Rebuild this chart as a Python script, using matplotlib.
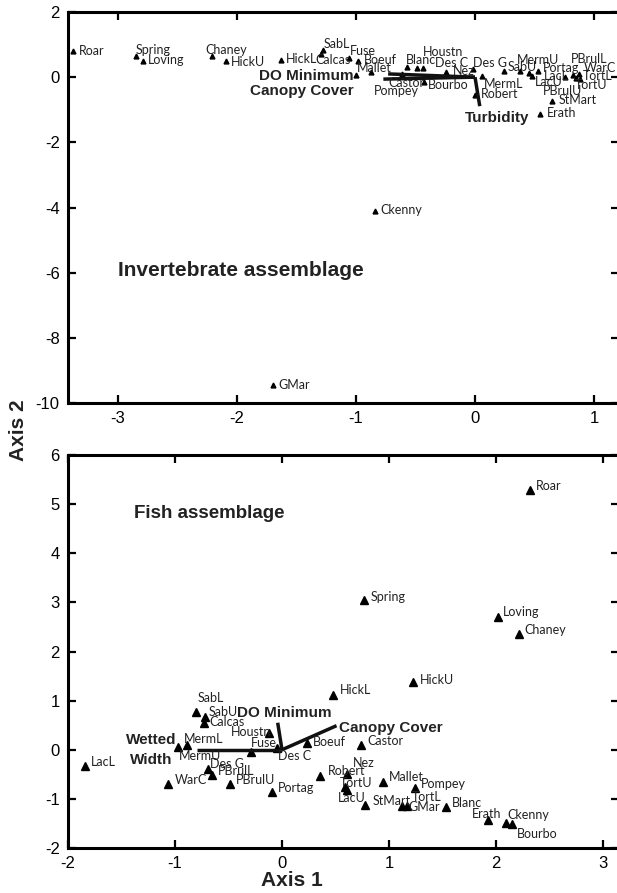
import matplotlib
matplotlib.use("Agg")
import matplotlib.pyplot as plt

plt.rcParams["axes.unicode_minus"] = False

# --- invertebrate ordination (top) ---
inv_sites = ["Roar", "Spring", "Loving", "Chaney", "HickU", "HickL", "SabL", "Calcas",
             "Fuse", "Boeuf", "Mallet", "Pompey", "Castor", "Blanc", "Houstn", "Des C",
             "Bourbo", "Nez", "Des G", "MermL", "Robert", "SabU", "MermU", "LacU",
             "PBrulU", "Portag", "LacL", "PBrulL", "WarC", "TortL", "TortU", "StMart",
             "Erath", "Ckenny", "GMar"]
inv_x = [-3.38, -2.85, -2.79, -2.21, -2.09, -1.63, -1.28, -1.29, -1.06, -0.98, -1.00,
         -0.87, -0.61, -0.57, -0.49, -0.44, -0.43, -0.24, -0.02, 0.06, 0.00, 0.24, 0.38,
         0.45, 0.48, 0.53, 0.76, 0.82, 0.87, 0.85, 0.88, 0.65, 0.55, -0.84, -1.70]
inv_y = [0.80, 0.64, 0.49, 0.64, 0.49, 0.52, 0.83, 0.70, 0.58, 0.49, 0.06, 0.15, 0.09,
         0.31, 0.28, 0.28, -0.15, 0.15, 0.24, 0.03, -0.55, 0.18, 0.18, 0.12, 0.03, 0.18,
         0.00, 0.06, 0.09, -0.03, -0.06, -0.73, -1.13, -4.10, -9.45]
inv_vec_names = ["DO Minimum", "Canopy Cover", "Turbidity"]
inv_vec_x = [-0.73, -0.77, 0.04]
inv_vec_y = [0.10, -0.06, -0.89]

# --- fish ordination (bottom) ---
fish_sites = ["Roar", "Spring", "Loving", "Chaney", "HickU", "HickL", "SabL", "SabU",
              "Calcas", "Houstn", "MermL", "MermU", "Fuse", "Des C", "Boeuf", "Castor",
              "LacL", "WarC", "Des G", "PBrulL", "PBrulU", "Portag", "Robert", "Nez",
              "TortU", "LacU", "StMart", "Mallet", "Pompey", "TortL", "GMar", "Blanc",
              "Erath", "Ckenny", "Bourbo"]
fish_x = [2.32, 0.77, 2.02, 2.22, 1.22, 0.48, -0.80, -0.72, -0.73, -0.12, -0.89, -0.97,
          -0.29, -0.05, 0.23, 0.74, -1.84, -1.07, -0.69, -0.65, -0.49, -0.09, 0.36, 0.61,
          0.59, 0.61, 0.78, 0.94, 1.24, 1.17, 1.12, 1.53, 1.93, 2.09, 2.15]
fish_y = [5.28, 3.05, 2.70, 2.36, 1.38, 1.12, 0.77, 0.67, 0.55, 0.35, 0.10, 0.06, -0.04,
          0.04, 0.14, 0.10, -0.33, -0.69, -0.39, -0.51, -0.69, -0.85, -0.53, -0.49, -0.75,
          -0.81, -1.12, -0.65, -0.78, -1.14, -1.14, -1.16, -1.44, -1.49, -1.51]
fish_vec_names = ["Wetted\nWidth", "DO Minimum", "Canopy Cover"]
fish_vec_x = [-0.79, -0.04, 0.51]
fish_vec_y = [0.00, 0.55, 0.49]

# label nudges in pixels (dx, dy) - layout only
inv_off = {"Roar": (6, 0), "Spring": (0, 6), "Loving": (5, 1), "Chaney": (-7, 6),
           "HickU": (5, -1), "HickL": (5, 1), "SabL": (1, 6), "Calcas": (-6, -6),
           "Fuse": (1, 7), "Boeuf": (5, 1), "Mallet": (1, 7), "Pompey": (2, -19),
           "Castor": (-14, -9), "Blanc": (-1, 7), "Houstn": (6, 16), "Des C": (12, 5),
           "Bourbo": (4, -3), "Nez": (6, 1), "Des G": (0, 6), "MermL": (2, -8),
           "Robert": (6, 1), "SabU": (4, 4), "MermU": (-3, 11), "LacU": (6, -9),
           "PBrulU": (11, -15), "Portag": (5, 3), "LacL": (-22, 1), "PBrulL": (-2, 16),
           "WarC": (5, 6), "TortL": (7, 2), "TortU": (-5, -6), "StMart": (6, 1),
           "Erath": (6, 1), "Ckenny": (5, 1), "GMar": (6, 0)}
fish_off = {"Roar": (6, 4), "Spring": (6, 3), "Loving": (5, 5), "Chaney": (5, 4),
            "HickU": (7, 2), "HickL": (7, 5), "SabL": (1, 14), "SabU": (4, 5),
            "Calcas": (5, 1), "Houstn": (-38, 1), "MermL": (-3, 6), "MermU": (1, -9),
            "Fuse": (0, 9), "Des C": (1, -8), "Boeuf": (6, 1), "Castor": (6, 4),
            "LacL": (6, 4), "WarC": (7, 4), "Des G": (2, 5), "PBrulL": (5, 4),
            "PBrulU": (6, 4), "Portag": (6, 4), "Robert": (7, 5), "Nez": (6, 11),
            "TortU": (-5, 4), "LacU": (-9, -8), "StMart": (7, 4), "Mallet": (6, 5),
            "Pompey": (6, 4), "TortL": (5, 9), "GMar": (7, -1), "Blanc": (6, 4),
            "Erath": (-17, 6), "Ckenny": (2, 8), "Bourbo": (5, -10)}

site_font = dict(family=["Lato", "DejaVu Sans"], fontsize=9, color="#222222")
bold_font = dict(family=["Liberation Sans", "DejaVu Sans"], fontweight="bold",
                 fontsize=11, color="#222222")

fig = plt.figure(figsize=(6.17, 8.93), dpi=100)
W, H = 617, 893
ax1 = fig.add_axes([68 / W, 1 - 403 / H, (619 - 68) / W, (403 - 12) / H])
ax2 = fig.add_axes([68 / W, 1 - 848 / H, (619 - 68) / W, (848 - 455) / H])


def style(ax):
    for s in ax.spines.values():
        s.set_linewidth(2.2)
    ax.tick_params(direction="in", length=6, width=1.6, top=True, right=True,
                   labelsize=12, pad=6)
    for lab in ax.get_xticklabels() + ax.get_yticklabels():
        lab.set_family(["Liberation Sans", "DejaVu Sans"])


# top panel
ax1.plot(inv_x, inv_y, "^", color="black", markersize=3.5, linestyle="none")
for name, x, y in zip(inv_sites, inv_x, inv_y):
    dx, dy = inv_off[name]
    ax1.annotate(name, (x, y), xytext=(dx, dy), textcoords="offset pixels",
                 ha="left", va="center", **site_font)
for vx, vy in zip(inv_vec_x, inv_vec_y):
    ax1.plot([0, vx], [0, vy], color="#111111", lw=2.5, solid_capstyle="butt")
ax1.annotate(inv_vec_names[0], (inv_vec_x[0], inv_vec_y[0]), xytext=(-35, -2),
             textcoords="offset pixels", ha="right", va="center", **bold_font)
ax1.annotate(inv_vec_names[1], (inv_vec_x[1], inv_vec_y[1]), xytext=(-30, -12),
             textcoords="offset pixels", ha="right", va="center", **bold_font)
ax1.annotate(inv_vec_names[2], (inv_vec_x[2], inv_vec_y[2]), xytext=(17, -12),
             textcoords="offset pixels", ha="center", va="center", **bold_font)
ax1.text(0.09, 0.34, "Invertebrate assemblage", transform=ax1.transAxes,
         ha="left", va="center", **dict(bold_font, fontsize=15))
ax1.set_xlim(-3.42, 1.21)
ax1.set_ylim(-10, 2)
ax1.set_xticks([-3, -2, -1, 0, 1])
ax1.set_yticks([-10, -8, -6, -4, -2, 0, 2])
style(ax1)

# bottom panel
ax2.plot(fish_x, fish_y, "^", color="black", markersize=6, linestyle="none")
for name, x, y in zip(fish_sites, fish_x, fish_y):
    dx, dy = fish_off[name]
    ax2.annotate(name, (x, y), xytext=(dx, dy), textcoords="offset pixels",
                 ha="left", va="center", **site_font)
for vx, vy in zip(fish_vec_x, fish_vec_y):
    ax2.plot([0, vx], [0, vy], color="#111111", lw=2.5, solid_capstyle="butt")
ax2.annotate(fish_vec_names[0], (fish_vec_x[0], fish_vec_y[0]), xytext=(-46, 0),
             textcoords="offset pixels", ha="center", va="center",
             linespacing=1.5, **bold_font)
ax2.annotate(fish_vec_names[1], (fish_vec_x[1], fish_vec_y[1]), xytext=(7, 10),
             textcoords="offset pixels", ha="center", va="center", **bold_font)
ax2.annotate(fish_vec_names[2], (fish_vec_x[2], fish_vec_y[2]), xytext=(2, -2),
             textcoords="offset pixels", ha="left", va="center", **bold_font)
ax2.text(0.12, 0.85, "Fish assemblage", transform=ax2.transAxes,
         ha="left", va="center", **dict(bold_font, fontsize=13.5))
ax2.set_xlim(-2, 3.15)
ax2.set_ylim(-2, 6)
ax2.set_xticks([-2, -1, 0, 1, 2, 3])
ax2.set_yticks([-2, -1, 0, 1, 2, 3, 4, 5, 6])
style(ax2)

axis_font = dict(family=["Liberation Sans Narrow", "Liberation Sans", "DejaVu Sans"],
                 fontweight="bold", fontsize=15, color="#222222")
fig.text(18 / W, 1 - 430 / H, "Axis 2", rotation=90, ha="center", va="center", **axis_font)
fig.text(292 / W, 1 - 880 / H, "Axis 1", ha="center", va="center", **axis_font)

fig.savefig("out.png", dpi=100)
